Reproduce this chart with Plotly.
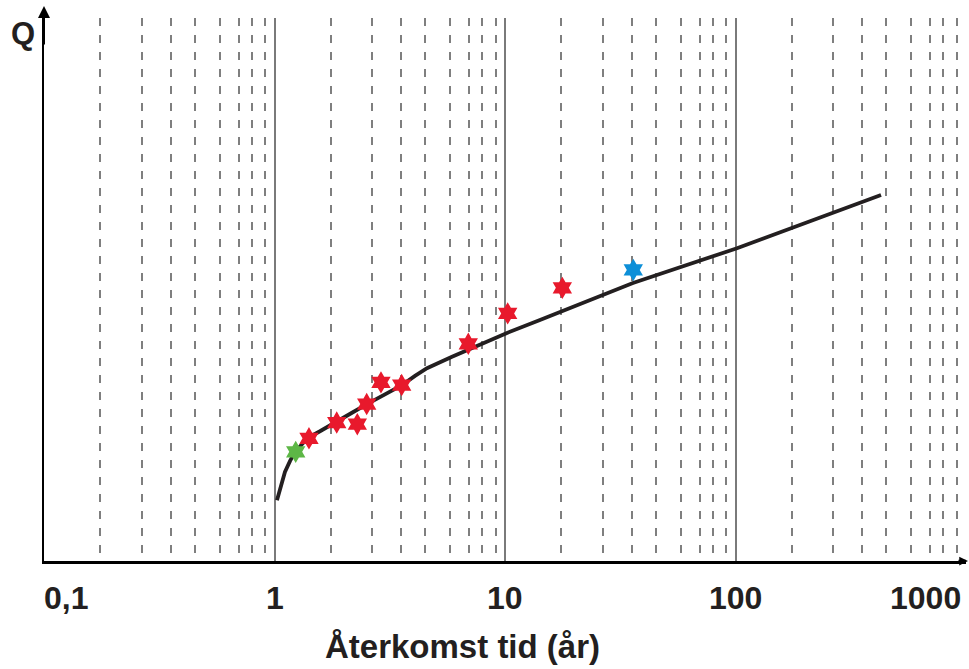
import math
import plotly.graph_objects as go

# Curve (return period in years, Q in arbitrary units)
curve_T = [1.025, 1.056, 1.11, 1.167, 1.227, 1.316, 1.397, 1.575, 1.866, 2.169,
           2.519, 3.015, 3.573, 4.07, 4.587, 5.89, 7.79, 10.2, 14.18, 17.67,
           20.74, 35.9, 101.5, 427.9]
curve_Q = [11.2, 13.4, 16.4, 18.4, 20.1, 21.5, 22.7, 23.9, 25.6, 27.3,
           28.9, 30.8, 32.4, 34.1, 35.5, 37.6, 39.8, 42.0, 44.4, 46.0,
           47.3, 51.2, 57.6, 67.4]

# Observations
green_T = [1.236]
green_Q = [20.1]
red_T = [1.411, 1.862, 2.287, 2.512, 2.897, 3.562, 6.93, 10.27, 17.73]
red_Q = [22.6, 25.5, 25.2, 28.9, 32.9, 32.4, 40.0, 45.6, 50.3]
blue_T = [36.02]
blue_Q = [53.6]

# Axis ticks / grid
major_ticks = [1, 10, 100, 1000]
minor_mult = [1.75, 2.66, 3.55, 4.5, 5.8, 7.0, 7.95, 9.1]
decades = [0.1, 1, 10, 100]
tick_vals = [0.1, 1, 10, 100, 1000]
tick_text = ["0,1", "1", "10", "100", "1000"]
x_title = "Återkomst tid (år)"
y_title = "Q"

minor_vals = [d * m for d in decades for m in minor_mult]

FONT = "Liberation Sans"

fig = go.Figure()
fig.add_trace(go.Scatter(x=curve_T, y=curve_Q, mode="lines",
                         line=dict(color="#231f20", width=3.8, shape="linear"),
                         hoverinfo="skip", showlegend=False))
for xs, ys, col in [(red_T, red_Q, "#e8192c"), (green_T, green_Q, "#5db746"), (blue_T, blue_Q, "#0d8fd8")]:
    fig.add_trace(go.Scatter(x=xs, y=ys, mode="markers",
                             marker=dict(symbol="hexagram", size=17, color=col, line=dict(width=0)),
                             showlegend=False))

W, H = 969, 669
L, R, T, B = 44, 3, 18, 108
pw, ph = W - L - R, H - T - B

fig.update_layout(
    width=W, height=H,
    margin=dict(l=L, r=R, t=T, b=B),
    paper_bgcolor="white", plot_bgcolor="white",
    xaxis=dict(type="log", range=[-1, 3], showticklabels=False, ticks="",
               tickvals=major_ticks, showgrid=True, gridcolor="#7a7a7a", gridwidth=1.5,
               zeroline=False, showline=True, linecolor="black", linewidth=2.5,
               minor=dict(tickvals=minor_vals, showgrid=True, gridcolor="#7f7f7f",
                          gridwidth=1.6, griddash="8px,9px", ticks="")),
    yaxis=dict(range=[0, 100], showticklabels=False, ticks="", showgrid=False,
               zeroline=False, showline=True, linecolor="black", linewidth=2),
)

anns = []
for v, t in zip(tick_vals, tick_text):
    if v == tick_vals[0]:
        xa, xs = "left", -2
    elif v == tick_vals[-1]:
        xa, xs = "right", -3
    else:
        xa, xs = "center", 0
    anns.append(dict(x=math.log10(v), xref="x", y=(561 - 598) / ph, yref="paper",
                     text=t, showarrow=False, xanchor=xa, yanchor="middle", xshift=xs,
                     font=dict(family=FONT, size=32, color="#231f20", weight="bold")))
anns.append(dict(x=(462 - L) / pw, xref="paper", y=(561 - 646) / ph, yref="paper",
                 text=x_title, showarrow=False, xanchor="center", yanchor="middle",
                 font=dict(family=FONT, size=33, color="#231f20", weight="bold")))
anns.append(dict(x=(23 - L) / pw, xref="paper", y=(561 - 33) / ph, yref="paper",
                 text=y_title, showarrow=False, xanchor="center", yanchor="middle",
                 font=dict(family=FONT, size=31, color="#231f20", weight="bold")))
# axis arrows
anns.append(dict(x=0, xref="paper", y=(561 - 6) / ph, yref="paper", ax=0, ay=40,
                 showarrow=True, arrowhead=2, arrowsize=1.2, arrowwidth=2, arrowcolor="black",
                 text=""))
anns.append(dict(x=(969 - L) / pw, xref="paper", y=0, yref="paper", ax=-12, ay=0,
                 showarrow=True, arrowhead=2, arrowsize=0.7, arrowwidth=2.5, arrowcolor="black",
                 text=""))
fig.update_layout(annotations=anns)

fig.write_html("out.html")
